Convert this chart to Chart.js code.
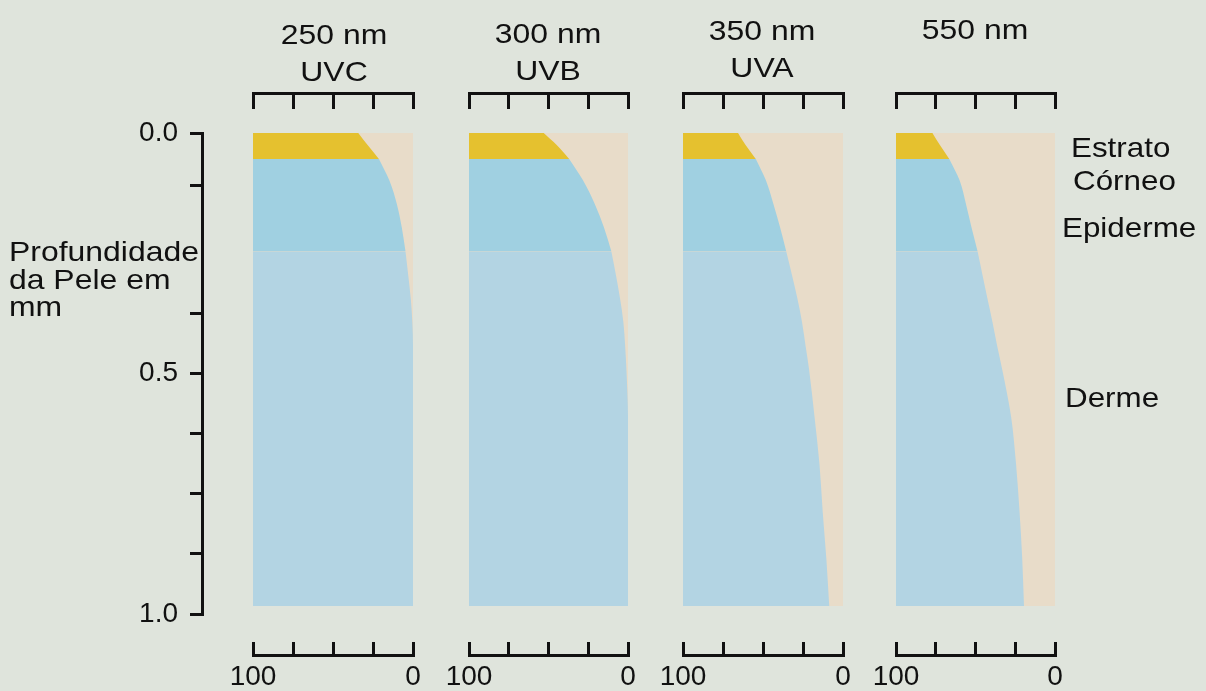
<!DOCTYPE html>
<html>
<head>
<meta charset="utf-8">
<script src="https://cdn.jsdelivr.net/npm/chart.js@4.4.0/dist/chart.umd.min.js"></script>
<style>
  html, body { margin: 0; padding: 0; }
  body { width: 1206px; height: 691px; position: relative; overflow: hidden;
         background: #dfe4dc; font-family: "Liberation Sans", Arial, sans-serif; color: #111; }
  canvas { position: absolute; top: 0; }
  .lbl { position: absolute; white-space: nowrap; line-height: 1; font-size: 28px;
         transform: scaleX(1.12); transform-origin: 0 50%; }
  .ttl { position: absolute; width: 200px; text-align: center; white-space: nowrap; line-height: 1;
         font-size: 28px; transform: scaleX(1.14); transform-origin: 50% 50%; }
</style>
</head>
<body>
<canvas id="axis" width="230" height="691" style="left:0px"></canvas>
<canvas id="p0" width="260" height="691" style="left:203px"></canvas>
<canvas id="p1" width="259" height="691" style="left:419px"></canvas>
<canvas id="p2" width="260" height="691" style="left:633px"></canvas>
<canvas id="p3" width="259" height="691" style="left:846px"></canvas>

<div class="lbl" style="left:9px; top:238px; transform: scaleX(1.14);">Profundidade</div>
<div class="lbl" style="left:9px; top:266px; transform: scaleX(1.14);">da Pele em</div>
<div class="lbl" style="left:9px; top:293px; transform: scaleX(1.14);">mm</div>

<div id="labels"></div>

<script>
// ---------------- data ----------------
const depthMm = [0, 0.025, 0.055, 0.1, 0.15, 0.2, 0.25, 0.3, 0.35, 0.4, 0.45, 0.5, 0.6, 0.7, 0.8, 0.9, 1.0];
const wavelengthLabels = ['250 nm', '300 nm', '350 nm', '550 nm'];
const bandLabels = ['UVC', 'UVB', 'UVA', ''];
// edge of the coloured area (on the 100 -> 0 scale) at each depth
const edge250 = [34.2, 28.5, 21.3, 14.8, 10.1, 7.0, 4.7, 3.0, 1.4, 0.4, 0, 0, 0, 0, 0, 0, 0];
const edge300 = [53, 45, 37, 28.3, 20.9, 15.1, 10.5, 7.6, 5.0, 2.9, 1.8, 1.0, 0, 0, 0, 0, 0];
const edge350 = [65.6, 61, 54.5, 48.2, 43.5, 39.3, 35.5, 31.9, 28.5, 25.6, 23.4, 21.2, 17.8, 14.7, 12.7, 10.4, 8.6];
const edge550 = [77.1, 72.5, 66.5, 60.0, 56.0, 52.5, 48.7, 45.6, 42.5, 39.3, 36.4, 33.2, 27.6, 24.5, 22.3, 20.6, 19.5];
const layerNames = ['Estrato', 'Córneo', 'Epiderme', 'Derme'];
const layerTop = [0, 0.055, 0.25];
const layerBottom = [0.055, 0.25, 1.0];
const intensityTicks = [100, 75, 50, 25, 0];
const intensityTickLabels = ['100', '', '', '', '0'];
const depthTicks = [0, 0.11, 0.375, 0.5, 0.625, 0.75, 0.875, 1.0];
const depthTickLabels = ['0.0', '', '', '0.5', '', '', '', '1.0'];

// ---------------- styles / layout ----------------
const edges = [edge250, edge300, edge350, edge550];
const ink = '#111111';
const layerColors = ['#e5c12f', '#a0d0e1', '#b3d4e3'];
const panelColor = '#e8dcc9';
const titleCenters = [334, 548, 762, 975];
const titleY = [[35, 72], [34, 71], [31, 68], [30, 67]];
const layerLabelPos = [[1071, 148], [1073, 181], [1062, 228], [1065, 398]];

Chart.defaults.font.family = '"Liberation Sans", Arial, sans-serif';
Chart.defaults.color = ink;

// left depth axis
new Chart(document.getElementById('axis'), {
  type: 'line',
  data: { datasets: [] },
  options: {
    responsive: false, animation: false, devicePixelRatio: 1,
    layout: { padding: { left: 0, right: 0, top: 133, bottom: 77 } },
    plugins: { legend: { display: false }, tooltip: { enabled: false } },
    scales: {
      x: { type: 'linear', display: false, min: 0, max: 1 },
      y: {
        type: 'linear', position: 'left', min: 0, max: 1, reverse: true,
        afterBuildTicks: s => { s.ticks = depthTicks.map(v => ({ value: v })); },
        afterFit: s => { s.width = 202; },
        grid: { drawOnChartArea: false, drawTicks: true, tickLength: 12, lineWidth: 3, color: ink },
        border: { display: true, width: 3, color: ink },
        ticks: { padding: 12, color: ink, font: { size: 28 }, autoSkip: false,
                 callback: (v, i) => depthTickLabels[i] }
      }
    }
  }
});

function layerData(edge, k) {
  const pts = [];
  depthMm.forEach((d, j) => {
    if (d >= layerTop[k] - 1e-9 && d <= layerBottom[k] + 1e-9) pts.push({ x: edge[j], y: d });
  });
  return pts;
}

const axisCommon = {
  type: 'linear', min: 0, max: 100, reverse: true,
  afterBuildTicks: s => { s.ticks = intensityTicks.map(v => ({ value: v })); },
  border: { display: true, width: 3, color: ink }
};

edges.forEach((edge, p) => {
  const datasets = [];
  for (let k = 0; k < layerTop.length; k++) {
    datasets.push({
      data: layerData(edge, k),
      backgroundColor: layerColors[k],
      borderColor: 'rgba(0,0,0,0)', borderWidth: 0, pointRadius: 0,
      cubicInterpolationMode: 'monotone',
      fill: { value: 100 }
    });
  }
  // panel background (drawn first, last in the list)
  datasets.push({
    data: [{ x: 0, y: depthMm[0] }, { x: 0, y: depthMm[depthMm.length - 1] }],
    backgroundColor: panelColor,
    borderColor: 'rgba(0,0,0,0)', borderWidth: 0, pointRadius: 0,
    fill: { value: 100 }
  });

  new Chart(document.getElementById('p' + p), {
    type: 'line',
    data: { datasets },
    options: {
      responsive: false, animation: false, devicePixelRatio: 1,
      indexAxis: 'y',
      layout: { padding: { left: 50, right: 50, top: 92, bottom: 0 } },
      plugins: { legend: { display: false }, tooltip: { enabled: false } },
      scales: {
        x: Object.assign({}, axisCommon, {
          position: 'bottom',
          afterFit: s => { s.height = 36; },
          grid: { display: true, drawOnChartArea: false, drawTicks: true, tickLength: -13,
                  lineWidth: 3, tickWidth: 3, color: ink, tickColor: ink },
          ticks: { padding: 18, color: ink, font: { size: 28 }, maxRotation: 0, autoSkip: false,
                   callback: (v, i) => intensityTickLabels[i] }
        }),
        x2: Object.assign({}, axisCommon, {
          position: 'top',
          afterFit: s => { s.height = 1; },
          grid: { display: true, drawOnChartArea: false, drawTicks: true, tickLength: -16,
                  lineWidth: 3, tickWidth: 3, color: ink, tickColor: ink },
          ticks: { display: false, autoSkip: false }
        }),
        y: { type: 'linear', min: -0.0846, max: 1.1036, reverse: true, display: false }
      }
    }
  });
});

// titles and layer names
const holder = document.getElementById('labels');
wavelengthLabels.forEach((t, i) => {
  [t, bandLabels[i]].forEach((s, j) => {
    if (!s) return;
    const d = document.createElement('div');
    d.className = 'ttl';
    d.style.left = (titleCenters[i] - 100) + 'px';
    d.style.top = (titleY[i][j] - 14) + 'px';
    d.textContent = s;
    holder.appendChild(d);
  });
});
layerNames.forEach((t, i) => {
  const d = document.createElement('div');
  d.className = 'lbl';
  d.style.left = layerLabelPos[i][0] + 'px';
  d.style.top = (layerLabelPos[i][1] - 14) + 'px';
  d.textContent = t;
  holder.appendChild(d);
});
</script>
</body>
</html>
